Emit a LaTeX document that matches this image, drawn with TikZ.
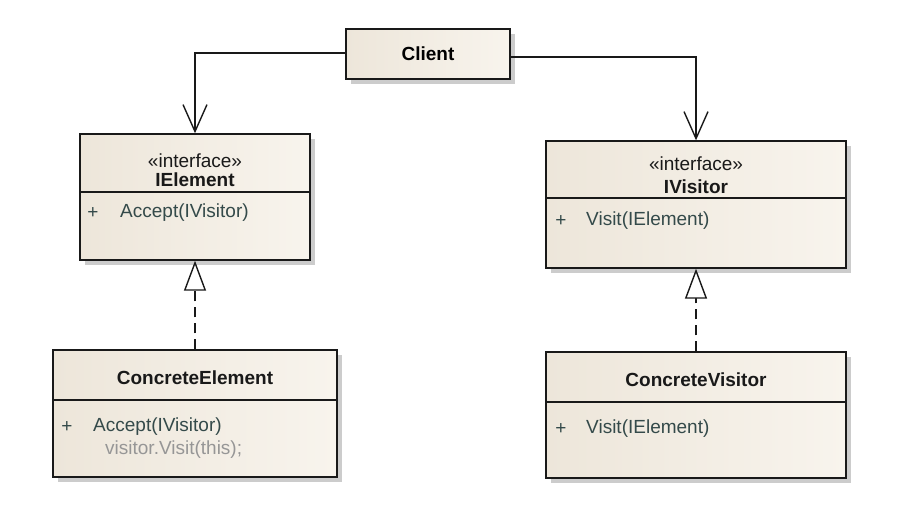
\documentclass[tikz,border=0pt]{standalone}
\usepackage{fontspec}
\setmainfont{Liberation Sans}
\usepackage{tikz}
\usetikzlibrary{arrows.meta,shadows}

\definecolor{clsleft}{RGB}{237,230,218}
\definecolor{clsright}{RGB}{248,244,237}
\definecolor{opcolor}{RGB}{52,74,74}
\definecolor{notecolor}{RGB}{150,150,150}
\definecolor{edgecolor}{RGB}{25,25,25}

\tikzset{
  umlclass/.style={draw=edgecolor, line width=1.4pt, left color=clsleft, right color=clsright,
    drop shadow={shadow xshift=5pt, shadow yshift=-5pt, fill=black!20, opacity=1},
    inner sep=0pt, font=\fontsize{19}{22}\selectfont\bfseries},
  stereo/.style={inner sep=0pt, text=edgecolor, font=\fontsize{19}{22}\selectfont},
  title/.style={inner sep=0pt, text=edgecolor, font=\fontsize{19}{22}\selectfont\bfseries},
  plus/.style={inner sep=0pt, text=opcolor, font=\fontsize{19}{22}\selectfont},
  op/.style={inner sep=0pt, anchor=west, text=opcolor, font=\fontsize{19}{22}\selectfont},
  note/.style={inner sep=0pt, anchor=west, text=notecolor, font=\fontsize{19}{22}\selectfont},
  sep/.style={draw=edgecolor, line width=1.4pt},
  assoc/.style={draw=edgecolor, line width=1.4pt, -{Straight Barb[length=27pt, width=24pt]}},
  realize/.style={draw=edgecolor, line width=1.4pt, dash pattern=on 10pt off 6pt,
    -{Triangle[open, length=30pt, width=22pt, fill=white]}}
}

\begin{document}
\begin{tikzpicture}[x=1pt, y=-1pt]
  \useasboundingbox (0,0) rectangle (901,529);

  % client
  \node[umlclass, minimum width=164pt, minimum height=50pt] (client) at (428,54) {Client};

  % element side
  \node[umlclass, minimum width=230pt, minimum height=126pt] (ielement) at (195,197) {};
  \node[stereo] at (195,161) {«interface»};
  \node[title] at (195,180) {IElement};
  \draw[sep] (ielement.west |- 0,192) -- (ielement.east |- 0,192);
  \node[plus] at (93,213) {+};
  \node[op] at (120,213) {Accept(IVisitor)};

  \node[umlclass, minimum width=284pt, minimum height=127pt] (celement) at (195,413.5) {};
  \node[title] at (195,378) {ConcreteElement};
  \draw[sep] (celement.west |- 0,400) -- (celement.east |- 0,400);
  \node[plus] at (67,427) {+};
  \node[op] at (93,427) {Accept(IVisitor)};
  \node[note] at (105,450) {visitor.Visit(this);};

  % visitor side
  \node[umlclass, minimum width=300pt, minimum height=127pt] (ivisitor) at (696,204.5) {};
  \node[stereo] at (696,164) {«interface»};
  \node[title] at (696,187) {IVisitor};
  \draw[sep] (ivisitor.west |- 0,198) -- (ivisitor.east |- 0,198);
  \node[plus] at (561,221) {+};
  \node[op] at (586,221) {Visit(IElement)};

  \node[umlclass, minimum width=300pt, minimum height=126pt] (cvisitor) at (696,415) {};
  \node[title] at (696,380) {ConcreteVisitor};
  \draw[sep] (cvisitor.west |- 0,402) -- (cvisitor.east |- 0,402);
  \node[plus] at (561,429) {+};
  \node[op] at (586,429) {Visit(IElement)};

  % connectors
  \draw[assoc] ([yshift=1pt]client.west) -| (ielement.north);
  \draw[assoc] ([yshift=-3pt]client.east) -| (ivisitor.north);
  \draw[realize] (celement.north) -- (ielement.south);
  \draw[realize] (cvisitor.north) -- (ivisitor.south);
\end{tikzpicture}
\end{document}
